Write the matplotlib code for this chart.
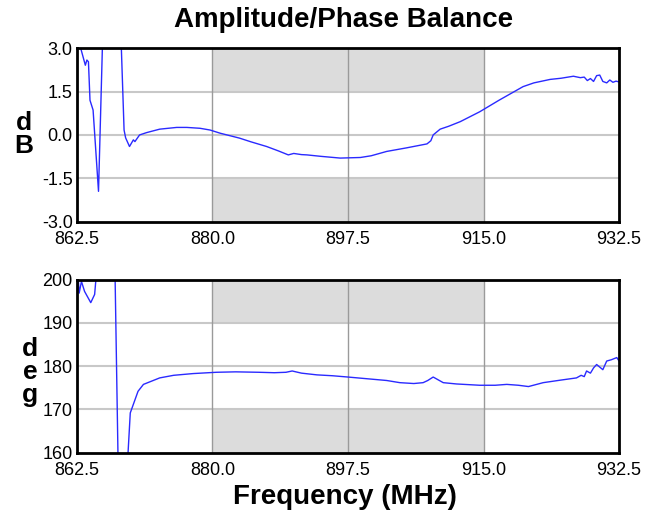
import matplotlib
matplotlib.use("Agg")
import matplotlib.pyplot as plt

plt.rcParams['font.family'] = ['Liberation Sans', 'DejaVu Sans']

# frequency axis
x_ticks = [862.5, 880.0, 897.5, 915.0, 932.5]
band = (880.0, 915.0)

# amplitude balance (dB)
amp_freq = [863.0, 863.6, 863.8, 864.0, 864.2, 864.6, 865.3, 866.0, 868.0, 868.6, 868.8,
            869.3, 869.8, 870.0, 870.6, 871.5, 873.2, 875.4, 876.7, 878.4, 879.7, 881.0,
            883.5, 885.0, 887.0, 888.5, 889.8, 890.5, 891.5, 892.2, 894.0, 896.5, 899.1,
            900.5, 902.5, 905.0, 907.7, 908.2, 908.5, 909.4, 910.5, 912.0, 914.5, 917.0,
            920.1, 921.5, 923.6, 925.0, 926.6, 927.5, 928.0, 928.4, 928.8, 929.2, 929.6,
            930.0, 930.4, 930.9, 931.3, 931.7, 932.1, 932.4]
amp_db = [3.0, 2.41, 2.59, 2.53, 1.2, 0.86, -1.95, 5.0, 5.0, 0.17, -0.1,
          -0.4, -0.17, -0.23, 0.0, 0.08, 0.2, 0.26, 0.26, 0.23, 0.17, 0.06,
          -0.11, -0.24, -0.4, -0.55, -0.69, -0.64, -0.68, -0.69, -0.74, -0.8, -0.78,
          -0.72, -0.57, -0.45, -0.31, -0.2, 0.0, 0.2, 0.3, 0.46, 0.8, 1.2,
          1.67, 1.8, 1.92, 1.96, 2.03, 1.98, 2.0, 1.88, 1.95, 1.85, 2.05,
          2.07, 1.85, 1.8, 1.9, 1.82, 1.86, 1.84]

# phase balance (deg)
ph_freq = [862.7, 862.8, 863.1, 863.5, 864.3, 864.8, 865.2, 867.4, 867.9, 868.8, 869.4,
           870.4, 871.1, 873.2, 875.0, 877.5, 880.5, 883.0, 886.0, 888.0, 889.5, 890.3,
           891.5, 893.5, 895.5, 897.5, 900.0, 902.5, 904.2, 906.0, 907.2, 907.8, 908.5,
           909.2, 909.8, 911.5, 914.5, 916.5, 918.0, 919.5, 920.8, 922.7, 925.0, 927.0,
           927.6, 928.0, 928.3, 928.8, 929.2, 929.6, 930.0, 930.4, 930.9, 931.5, 932.2, 932.5]
ph_deg = [200.0, 196.9, 199.6, 197.3, 194.7, 196.6, 205.0, 205.0, 150.0, 150.0, 169.2,
          174.2, 175.8, 177.3, 177.9, 178.3, 178.6, 178.7, 178.6, 178.5, 178.6, 178.9,
          178.4, 178.0, 177.8, 177.5, 177.1, 176.7, 176.2, 176.0, 176.2, 176.7, 177.5,
          176.8, 176.2, 175.9, 175.6, 175.6, 175.8, 175.6, 175.3, 176.2, 176.8, 177.3,
          177.9, 177.6, 178.9, 178.4, 179.6, 180.4, 179.8, 179.2, 181.2, 181.5, 182.0, 181.2]

fig = plt.figure(figsize=(6.51, 5.18), dpi=100)
ax1 = fig.add_axes([0.118, 0.572, 0.833, 0.335])
ax2 = fig.add_axes([0.118, 0.126, 0.833, 0.334])

def style_axis(ax, ylo, yhi, ystep, lo_lim, hi_lim, fmt):
    ax.set_xlim(x_ticks[0], x_ticks[-1])
    ax.set_ylim(ylo, yhi)
    ax.axvspan(band[0], band[1], ymin=(hi_lim - ylo) / (yhi - ylo), ymax=1, color='#dcdcdc', lw=0, zorder=0)
    ax.axvspan(band[0], band[1], ymin=0, ymax=(lo_lim - ylo) / (yhi - ylo), color='#dcdcdc', lw=0, zorder=0)
    yt = []
    v = ylo
    while v <= yhi + 1e-9:
        yt.append(v)
        v += ystep
    ax.set_yticks(yt)
    ax.set_yticklabels([fmt % t for t in yt])
    ax.set_xticks(x_ticks)
    ax.set_xticklabels(['%.1f' % t for t in x_ticks])
    for t in yt[1:-1]:
        ax.axhline(t, color='#c8c8c8', lw=1.5, zorder=1)
    for t in x_ticks[1:-1]:
        ax.axvline(t, color='#9a9a9a', lw=1.0, zorder=1)
    ax.tick_params(length=0, labelsize=13)
    ax.tick_params(axis='x', pad=7)
    ax.tick_params(axis='y', pad=3)
    for s in ax.spines.values():
        s.set_linewidth(2)
        s.set_zorder(5)

style_axis(ax1, -3.0, 3.0, 1.5, -1.5, 1.5, '%.1f')
style_axis(ax2, 160, 200, 10, 170, 190, '%d')

ax1.plot(amp_freq, amp_db, color='#2a2aff', lw=1.0, zorder=3)
ax2.plot(ph_freq, ph_deg, color='#2a2aff', lw=1.0, zorder=3)

fig.text(0.527, 0.961, 'Amplitude/Phase Balance', ha='center', va='center', fontsize=20, fontweight='bold')
fig.text(0.530, 0.040, 'Frequency (MHz)', ha='center', va='center', fontsize=20, fontweight='bold')
fig.text(0.037, 0.74, 'd\nB', ha='center', va='center', fontsize=19, fontweight='bold', linespacing=0.95)
fig.text(0.046, 0.282, 'd\ne\ng', ha='center', va='center', fontsize=19, fontweight='bold', linespacing=0.95)

fig.savefig('out.png', dpi=100)
